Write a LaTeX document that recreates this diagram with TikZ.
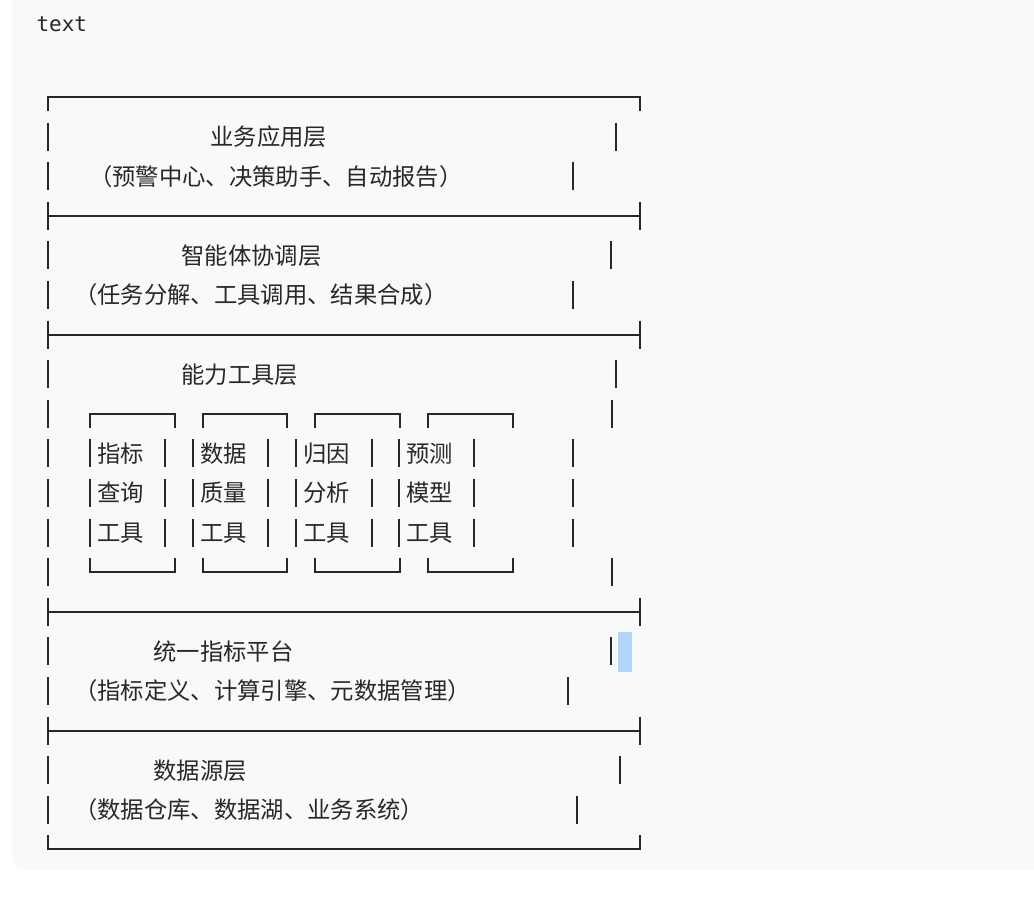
\documentclass[tikz,border=0pt]{standalone}
\usepackage{fontspec}
\newfontfamily\cjk{Noto Sans CJK SC}
\newfontfamily\mono{DejaVu Sans Mono}
\definecolor{bgc}{RGB}{248,249,251}
\definecolor{inkc}{RGB}{40,40,40}
\definecolor{selc}{RGB}{179,213,252}
\begin{document}
\begin{tikzpicture}[x=0.75pt,y=-0.75pt,
  bx/.style={line width=1.5pt, draw=inkc},
  lbl/.style={anchor=base west, inner sep=0pt, outer sep=0pt, text=inkc,
    font=\cjk\fontsize{17.5pt}{17.5pt}\selectfont}]
\useasboundingbox (0,0) rectangle (1034,922);
\fill[bgc, rounded corners=9pt] (12,-20) rectangle (1060,870);
\node[anchor=base west, inner sep=0pt, text=inkc,
  font=\mono\fontsize{15.75pt}{15.75pt}\selectfont] (title) at (36.3,31.7) {text};
% outer frame
\draw[bx] (48,111) -- (48,97) -- (640,97) -- (640,111);
\draw[bx] (48,835.4) -- (48,849.4) -- (640,849.4) -- (640,835.4);
\foreach \r in {1,2,4,5,7,8,9,10,11,12,14,15,17,18}
  \draw[bx] (48,97+39.6*\r-14) -- ++(0,28);
\foreach \r in {3,6,13,16}{
  \draw[bx] (48,97+39.6*\r-14) -- ++(0,28);
  \draw[bx] (640,97+39.6*\r-14) -- ++(0,28);
  \draw[bx] (48,97+39.6*\r) -- (640,97+39.6*\r);
}
\foreach \x/\r in {615.7/1, 572.7/2, 610.7/4, 572.7/5, 615.7/7, 611.7/8,
  573.3/9, 573.3/10, 573.3/11, 611.7/12, 610.7/14, 568/15, 620.3/17, 577.3/18}
  \draw[bx] (\x,97+39.6*\r-14) -- ++(0,28);
% tool boxes
\foreach \a/\b in {90/175, 202.7/287, 315/400, 428/512.7}{
  \draw[bx] (\a,427.8) -- (\a,413.8) -- (\b,413.8) -- (\b,427.8);
  \draw[bx] (\a,558.2) -- (\a,572.2) -- (\b,572.2) -- (\b,558.2);
}
\foreach \a/\b in {90/165, 193/268, 296/371.7, 399/474}
  \foreach \r in {9,10,11}{
    \draw[bx] (\a,97+39.6*\r-14) -- ++(0,28);
    \draw[bx] (\b,97+39.6*\r-14) -- ++(0,28);
  }
\fill[selc] (618,632) rectangle (632,671.7);
% texts
\node[lbl] (l1) at (210.5,145.5) {业务应用层};
\node[lbl] (l2) at (89,185.1) {（预警中心、决策助手、自动报告）};
\node[lbl] (l4) at (181.5,264.3) {智能体协调层};
\node[lbl] (l5) at (74,303.9) {（任务分解、工具调用、结果合成）};
\node[lbl] (l7) at (181.5,383.1) {能力工具层};
\node[lbl] (a1) at (97,462.3) {指标};
\node[lbl] (a2) at (97,501.9) {查询};
\node[lbl] (a3) at (97,541.5) {工具};
\node[lbl] (b1) at (200.3,462.3) {数据};
\node[lbl] (b2) at (200.3,501.9) {质量};
\node[lbl] (b3) at (200.3,541.5) {工具};
\node[lbl] (c1) at (303.5,462.3) {归因};
\node[lbl] (c2) at (303.5,501.9) {分析};
\node[lbl] (c3) at (303.5,541.5) {工具};
\node[lbl] (d1) at (406.3,462.3) {预测};
\node[lbl] (d2) at (406.3,501.9) {模型};
\node[lbl] (d3) at (406.3,541.5) {工具};
\node[lbl] (l14) at (153.5,660.3) {统一指标平台};
\node[lbl] (l15) at (74,699.9) {（指标定义、计算引擎、元数据管理）};
\node[lbl] (l17) at (153.5,779.1) {数据源层};
\node[lbl] (l18) at (74,818.7) {（数据仓库、数据湖、业务系统）};
\end{tikzpicture}
\end{document}
